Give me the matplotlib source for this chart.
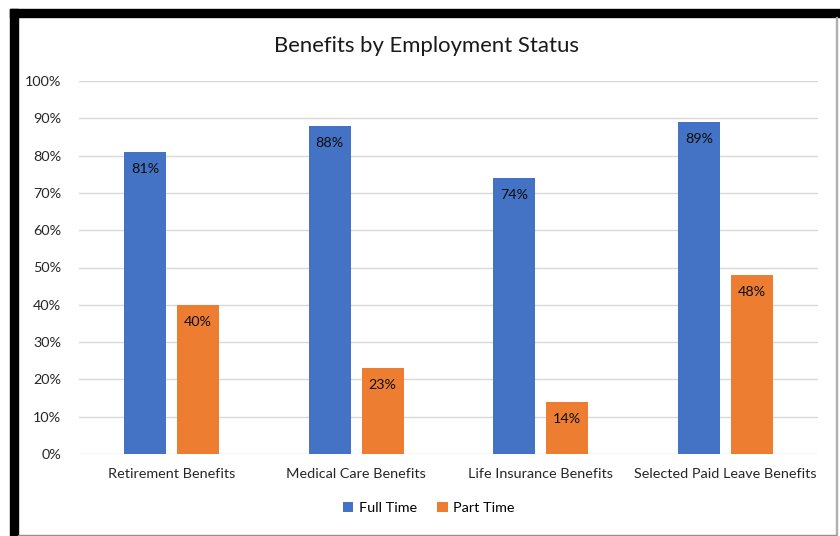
import numpy as np
import matplotlib.pyplot as plt
from matplotlib.patches import Rectangle

categories = ['Retirement Benefits', 'Medical Care Benefits', 'Life Insurance Benefits',
              'Selected Paid Leave Benefits']
full_time = [81, 88, 74, 89]
part_time = [40, 23, 14, 48]
series_names = ['Full Time', 'Part Time']
colors = ['#4472C4', '#ED7D31']
yticks = [0, 10, 20, 30, 40, 50, 60, 70, 80, 90, 100]

plt.rcParams['font.family'] = ['Lato', 'DejaVu Sans']

fig = plt.figure(figsize=(8.4, 5.36), dpi=100)
W, H = 840, 536
# screenshot frame: black bands top and left, thin grey lines right and bottom
fig.patches.append(Rectangle((10 / W, 1 - 17 / H), 830 / W, 8 / H, transform=fig.transFigure,
                             color='black', zorder=0))
fig.patches.append(Rectangle((10 / W, 0), 8 / W, 1 - 9 / H, transform=fig.transFigure,
                             color='black', zorder=0))
fig.patches.append(Rectangle((835.5 / W, 0), 1.2 / W, 1 - 17 / H, transform=fig.transFigure,
                             color='#b0b0b0', zorder=0))
fig.patches.append(Rectangle((18 / W, 0), 818 / W, 1.2 / H, transform=fig.transFigure,
                             color='#909090', zorder=0))

ax = fig.add_axes([79 / W, 1 - 454 / H, (818 - 79) / W, (454 - 81) / H])
x = np.arange(len(categories))
bw = 0.227
off = 0.143
b1 = ax.bar(x - off, full_time, bw, color=colors[0], label=series_names[0], zorder=2)
b2 = ax.bar(x + off, part_time, bw, color=colors[1], label=series_names[1], zorder=2)

# data labels inside the top of each bar
for bars, vals in ((b1, full_time), (b2, part_time)):
    for r, v in zip(bars, vals):
        ax.annotate(f'{v}%', (r.get_x() + r.get_width() / 2, v), xytext=(0, -17),
                    textcoords='offset pixels', ha='center', va='center',
                    fontsize=10.3, color='#0d0d0d', zorder=3)

ax.set_xlim(-0.5, len(categories) - 0.5)
ax.set_ylim(0, 100)
ax.set_yticks(yticks)
ax.set_yticklabels([f'{t}%' for t in yticks], fontsize=10.4, color='#262626')
ax.set_xticks(x)
ax.set_xticklabels(categories, fontsize=10.4, color='#262626')
ax.tick_params(axis='both', length=0)
ax.tick_params(axis='y', pad=13)
ax.tick_params(axis='x', pad=10)
ax.grid(axis='y', color='#d9d9d9', linewidth=1, zorder=0)
for s in ax.spines.values():
    s.set_visible(False)

fig.text(0.508, 1 - 46 / H, 'Benefits by Employment Status', ha='center', va='center',
         fontsize=15.9, color='#1a1a1a')
fig.legend(handles=[b1, b2], loc='center', bbox_to_anchor=(429 / W, 1 - 508 / H), ncol=2,
           frameon=False, fontsize=10.4, handlelength=0.7, handleheight=0.7,
           columnspacing=1.4, handletextpad=0.4)

fig.savefig('out.png', dpi=100)
